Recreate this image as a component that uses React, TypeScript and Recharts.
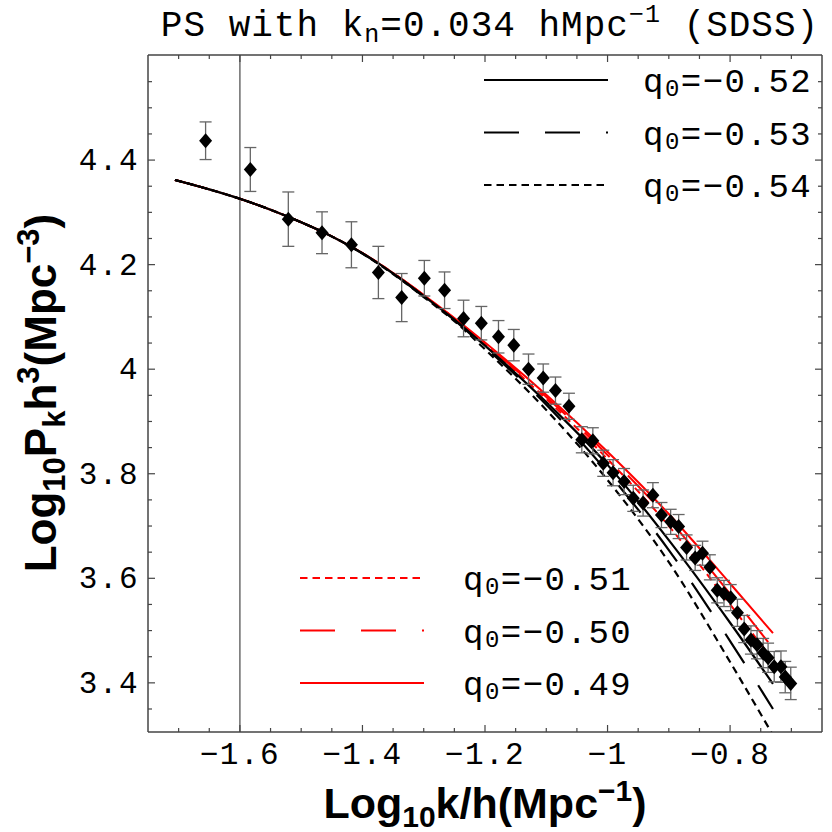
import {
  ComposedChart,
  Line,
  Scatter,
  ErrorBar,
  XAxis,
  YAxis,
  ReferenceLine,
  Customized,
} from "recharts";

// model curves, sampled in log10 k/h
const curveX = [-1.706, -1.65, -1.6, -1.55, -1.5, -1.45, -1.4, -1.35, -1.3, -1.25, -1.2, -1.1, -1.0, -0.9, -0.8, -0.73];
const q049 = [4.362, 4.344, 4.326, 4.305, 4.281, 4.254, 4.222, 4.184, 4.142, 4.098, 4.051, 3.951, 3.842, 3.723, 3.59, 3.495];
const q050 = [4.362, 4.344, 4.326, 4.305, 4.281, 4.254, 4.222, 4.184, 4.142, 4.097, 4.049, 3.947, 3.836, 3.713, 3.57, 3.466];
const q051 = [4.362, 4.344, 4.326, 4.305, 4.281, 4.254, 4.222, 4.184, 4.141, 4.096, 4.047, 3.943, 3.828, 3.7, 3.55, 3.443];
const q052 = [4.362, 4.344, 4.326, 4.305, 4.281, 4.254, 4.222, 4.183, 4.14, 4.095, 4.045, 3.937, 3.817, 3.673, 3.515, 3.398];
const q053 = [4.362, 4.344, 4.326, 4.305, 4.281, 4.254, 4.221, 4.183, 4.139, 4.094, 4.042, 3.932, 3.803, 3.654, 3.48, 3.35];
const q054 = [4.362, 4.344, 4.326, 4.305, 4.281, 4.254, 4.221, 4.182, 4.138, 4.092, 4.038, 3.922, 3.788, 3.631, 3.44, 3.3];

// SDSS points
const ptX = [-1.656, -1.583, -1.521, -1.466, -1.418, -1.374, -1.336, -1.299, -1.266, -1.235, -1.206, -1.178, -1.153, -1.129, -1.105, -1.085, -1.063, -1.042, -1.024, -1.007, -0.991, -0.973, -0.958, -0.942, -0.926, -0.912, -0.897, -0.884, -0.871, -0.857, -0.845, -0.833, -0.821, -0.81, -0.799, -0.788, -0.777, -0.766, -0.756, -0.746, -0.738, -0.728, -0.717, -0.71, -0.701];
const ptY = [4.437, 4.382, 4.287, 4.261, 4.238, 4.185, 4.137, 4.174, 4.151, 4.097, 4.088, 4.062, 4.046, 4.0, 3.983, 3.959, 3.929, 3.865, 3.863, 3.82, 3.802, 3.785, 3.753, 3.744, 3.759, 3.721, 3.708, 3.699, 3.659, 3.639, 3.648, 3.621, 3.577, 3.571, 3.563, 3.534, 3.503, 3.482, 3.473, 3.457, 3.448, 3.431, 3.431, 3.411, 3.399];
const ptErr = [0.036, 0.042, 0.052, 0.04, 0.044, 0.05, 0.046, 0.034, 0.035, 0.035, 0.032, 0.031, 0.03, 0.029, 0.027, 0.026, 0.025, 0.025, 0.025, 0.025, 0.025, 0.025, 0.025, 0.025, 0.024, 0.024, 0.024, 0.023, 0.024, 0.024, 0.023, 0.024, 0.024, 0.025, 0.025, 0.026, 0.026, 0.027, 0.027, 0.028, 0.028, 0.029, 0.03, 0.03, 0.031];

const xMajor = [-1.6, -1.4, -1.2, -1, -0.8];
const xTicks = [-1.7, -1.65, -1.6, -1.55, -1.5, -1.45, -1.4, -1.35, -1.3, -1.25, -1.2, -1.15, -1.1, -1.05, -1, -0.95, -0.9, -0.85, -0.8, -0.75, -0.7];
const yMajor = [3.4, 3.6, 3.8, 4, 4.2, 4.4];
const yTicks = [3.35, 3.4, 3.45, 3.5, 3.55, 3.6, 3.65, 3.7, 3.75, 3.8, 3.85, 3.9, 3.95, 4, 4.05, 4.1, 4.15, 4.2, 4.25, 4.3, 4.35, 4.4, 4.45, 4.5, 4.55];

const curves = [
  { key: "q049", vals: q049, color: "#ff0000", dash: undefined, label: "−0.49" },
  { key: "q050", vals: q050, color: "#ff0000", dash: "35 26", label: "−0.50" },
  { key: "q051", vals: q051, color: "#ff0000", dash: "7.5 5", label: "−0.51" },
  { key: "q052", vals: q052, color: "#000000", dash: undefined, label: "−0.52" },
  { key: "q053", vals: q053, color: "#000000", dash: "35 26", label: "−0.53" },
  { key: "q054", vals: q054, color: "#000000", dash: "7.5 5", label: "−0.54" },
];

const rows = curveX.map((x, i) => {
  const r: any = { x };
  curves.forEach((c) => (r[c.key] = c.vals[i]));
  return r;
});
const points = ptX.map((x, i) => ({ x, y: ptY[i], err: ptErr[i] }));

const FRAME = "#444";
const MONO = "'Liberation Mono', 'DejaVu Sans Mono', monospace";
const SANS = "'Liberation Sans', Arial, sans-serif";

const isMajor = (v: number, majors: number[]) => majors.some((m) => Math.abs(m - v) < 1e-6);
const fmt = (v: number) => String(Math.round(v * 10) / 10).replace("-", "\u2212");

function BottomTick({ x, y, payload }: any) {
  const major = isMajor(payload.value, xMajor);
  return (
    <g>
      <line x1={x} x2={x} y1={y} y2={y - (major ? 7 : 4)} stroke={FRAME} strokeWidth={1.2} />
      {major && (
        <text x={x} y={y + 32} textAnchor="middle" fontFamily={MONO} fontSize={31} letterSpacing={1.5} fill="#000">
          {fmt(payload.value)}
        </text>
      )}
    </g>
  );
}

function TopTick({ x, y, payload }: any) {
  const major = isMajor(payload.value, xMajor);
  return <line x1={x} x2={x} y1={y} y2={y + (major ? 7 : 4)} stroke={FRAME} strokeWidth={1.2} />;
}

function LeftTick({ x, y, payload }: any) {
  const major = isMajor(payload.value, yMajor);
  return (
    <g>
      <line x1={x} x2={x + (major ? 7 : 4)} y1={y} y2={y} stroke={FRAME} strokeWidth={1.2} />
      {major && (
        <text x={x - 9} y={y + 10} textAnchor="end" fontFamily={MONO} fontSize={31} letterSpacing={1.5} fill="#000">
          {fmt(payload.value)}
        </text>
      )}
    </g>
  );
}

function RightTick({ x, y, payload }: any) {
  const major = isMajor(payload.value, yMajor);
  return <line x1={x} x2={x - (major ? 7 : 4)} y1={y} y2={y} stroke={FRAME} strokeWidth={1.2} />;
}

function LegendRow({ x1, x2, y, tx, color, dash, label }: any) {
  return (
    <g>
      <line x1={x1} x2={x2} y1={y} y2={y} stroke={color} strokeWidth={2} strokeDasharray={dash} />
      <text x={tx} y={y + 12} fontFamily={MONO} fontSize={34} letterSpacing={1.5} fill="#000">
        q<tspan fontSize={24} dy={4}>0</tspan>
        <tspan dy={-4}>={label}</tspan>
      </text>
    </g>
  );
}

function Decorations() {
  const black = curves.slice(3);
  const red = curves.slice(0, 3).reverse();
  return (
    <g>
      <text x={490} y={36} textAnchor="middle" fontFamily={MONO} fontSize={36} letterSpacing={1} fill="#000" style={{ whiteSpace: "pre" }}>
        PS with k<tspan fontSize={25} dy={6}>n</tspan>
        <tspan dy={-6}>=0.034 hMpc</tspan>
        <tspan fontSize={25} dy={-14}>−1</tspan>
        <tspan dy={14}> (SDSS)</tspan>
      </text>
      <text x={485} y={818} textAnchor="middle" fontFamily={SANS} fontWeight="bold" fontSize={43} fill="#000">
        Log<tspan fontSize={30} dy={9}>10</tspan>
        <tspan dy={-9}>k/h(Mpc</tspan>
        <tspan fontSize={30} dy={-17}>−1</tspan>
        <tspan dy={17}>)</tspan>
      </text>
      <text transform="rotate(-90)" x={-393} y={56} textAnchor="middle" fontFamily={SANS} fontWeight="bold" fontSize={44} fill="#000">
        Log<tspan fontSize={31} dy={9}>10</tspan>
        <tspan dy={-9}>P</tspan>
        <tspan fontSize={31} dy={9}>k</tspan>
        <tspan dy={-9}>h</tspan>
        <tspan fontSize={31} dy={-17}>3</tspan>
        <tspan dy={17}>(Mpc</tspan>
        <tspan fontSize={31} dy={-17}>−3</tspan>
        <tspan dy={17}>)</tspan>
      </text>
      {black.map((c, i) => (
        <LegendRow key={c.key} x1={484} x2={608} y={80 + i * 52.5} tx={643} color={c.color} dash={c.dash} label={c.label} />
      ))}
      {red.map((c, i) => (
        <LegendRow key={c.key} x1={300} x2={424} y={578 + i * 52.5} tx={463} color={c.color} dash={c.dash} label={c.label} />
      ))}
    </g>
  );
}

export default function App() {
  return (
    <div style={{ position: "absolute", left: 0, top: 0, width: 832, height: 832, background: "#fff" }}>
      <ComposedChart width={832} height={832} data={rows} margin={{ top: 0, right: 0, bottom: 0, left: 0 }}>
        <XAxis
          xAxisId="b"
          dataKey="x"
          type="number"
          domain={[-1.75, -0.65]}
          allowDataOverflow
          ticks={xTicks}
          interval={0}
          height={100}
          tickSize={0}
          tickMargin={0}
          tickLine={false}
          axisLine={{ stroke: FRAME, strokeWidth: 1.5 }}
          tick={<BottomTick />}
        />
        <XAxis
          xAxisId="t"
          orientation="top"
          dataKey="x"
          type="number"
          domain={[-1.75, -0.65]}
          allowDataOverflow
          ticks={xTicks}
          interval={0}
          height={55}
          tickSize={0}
          tickMargin={0}
          tickLine={false}
          axisLine={{ stroke: FRAME, strokeWidth: 1.5 }}
          tick={<TopTick />}
        />
        <YAxis
          yAxisId="l"
          type="number"
          domain={[3.306, 4.601]}
          allowDataOverflow
          ticks={yTicks}
          interval={0}
          width={148}
          tickSize={0}
          tickMargin={0}
          tickLine={false}
          axisLine={{ stroke: FRAME, strokeWidth: 1.5 }}
          tick={<LeftTick />}
        />
        <YAxis
          yAxisId="r"
          orientation="right"
          type="number"
          domain={[3.306, 4.601]}
          allowDataOverflow
          ticks={yTicks}
          interval={0}
          width={10}
          tickSize={0}
          tickMargin={0}
          tickLine={false}
          axisLine={{ stroke: FRAME, strokeWidth: 1.5 }}
          tick={<RightTick />}
        />
        <ReferenceLine xAxisId="b" yAxisId="l" x={-1.6} stroke="#555" strokeWidth={1.3} />
        {curves.map((c) => (
          <Line
            key={c.key}
            xAxisId="b"
            yAxisId="l"
            dataKey={c.key}
            type="monotone"
            stroke={c.color}
            strokeWidth={c.color === "#000000" ? 2.2 : 2}
            strokeDasharray={c.dash}
            dot={false}
            activeDot={false}
            isAnimationActive={false}
          />
        ))}
        <Scatter
          xAxisId="b"
          yAxisId="l"
          data={points}
          dataKey="y"
          isAnimationActive={false}
          shape={({ cx, cy }: any) => (
            <path d={`M${cx},${cy - 7.5}L${cx + 6.5},${cy}L${cx},${cy + 7.5}L${cx - 6.5},${cy}Z`} fill="#000" />
          )}
        >
          <ErrorBar dataKey="err" direction="y" width={6} stroke="#666" strokeWidth={1.3} isAnimationActive={false} />
        </Scatter>
        <Customized component={Decorations} />
      </ComposedChart>
    </div>
  );
}
